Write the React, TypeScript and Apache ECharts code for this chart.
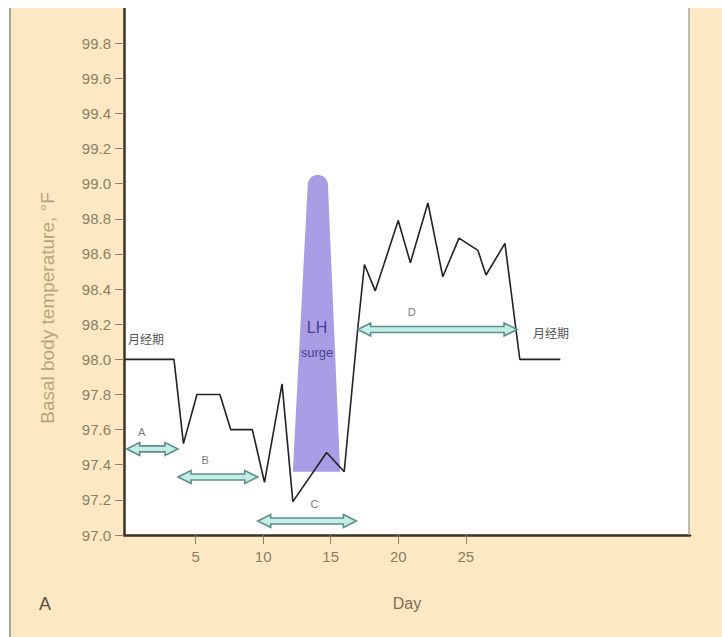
import React, { useEffect, useRef } from "react";
import * as echarts from "echarts";

// Basal body temperature curve
const days = [-0.3, 3.4, 4.1, 5.1, 6.8, 7.6, 9.2, 10.1, 11.4, 12.2, 14.7, 16.0, 17.0, 17.5, 18.3, 20.0, 20.9, 22.2, 23.3, 24.5, 25.9, 26.5, 27.9, 29.0, 32.0];
const temps = [98.0, 98.0, 97.52, 97.8, 97.8, 97.6, 97.6, 97.3, 97.86, 97.19, 97.47, 97.36, 98.17, 98.54, 98.39, 98.79, 98.55, 98.89, 98.47, 98.69, 98.62, 98.48, 98.66, 98.0, 98.0];

// Phase arrows
const arrowLabels = ["A", "B", "C", "D"];
const arrowStarts = [-0.1, 3.7, 9.6, 17.0];
const arrowEnds = [3.7, 9.6, 16.9, 28.8];
const arrowTemps = [97.49, 97.33, 97.08, 98.17];
const arrowLabelDays = [1.0, 5.7, 13.8, 21.0];

// LH surge band
const lhBottomDays = [12.2, 15.7];
const lhTopDays = [13.3, 14.8];
const lhTemps = [97.36, 99.05];

// Axis ticks
const xTicks = [5, 10, 15, 20, 25];
const yTicks = [97.0, 97.2, 97.4, 97.6, 97.8, 98.0, 98.2, 98.4, 98.6, 98.8, 99.0, 99.2, 99.4, 99.6, 99.8];

const labelColor = "#8a7f62";
const axisColor = "#3b3326";

export default function App() {
  const ref = useRef<HTMLDivElement>(null);
  useEffect(() => {
    if (!ref.current) return;
    const chart = echarts.init(ref.current, null, { renderer: "svg" });
    const arrowData = arrowLabels.map((l, i) => [arrowStarts[i], arrowEnds[i], arrowTemps[i], i, arrowLabelDays[i]]);
    const lhData = [[lhBottomDays[0], lhBottomDays[1], lhTopDays[0], lhTopDays[1], lhTemps[0], lhTemps[1]]];
    chart.setOption({
      animation: false,
      backgroundColor: "#fce9c3",
      grid: {
        left: 124,
        top: 8,
        right: 32,
        bottom: 102,
        show: true,
        backgroundColor: "#ffffff",
        borderWidth: 0,
      },
      xAxis: {
        type: "value",
        min: -0.3,
        max: 41.6,
        axisLine: { show: true, onZero: false, lineStyle: { color: axisColor, width: 2.5 } },
        axisTick: { show: true, customValues: xTicks, length: 9, lineStyle: { color: "#8a8070", width: 1 } },
        axisLabel: {
          customValues: xTicks,
          color: labelColor,
          fontSize: 15,
          fontFamily: "Liberation Sans",
          margin: 14,
        },
        splitLine: { show: false },
        name: "Day",
        nameLocation: "middle",
        nameGap: 60,
        nameTextStyle: { color: "#7a6e55", fontSize: 16, fontFamily: "Liberation Sans" },
      },
      yAxis: {
        type: "value",
        min: 97,
        max: 100,
        interval: 0.2,
        axisLine: { show: true, onZero: false, lineStyle: { color: axisColor, width: 2.5 } },
        axisTick: { show: true, customValues: yTicks, length: 9, lineStyle: { color: "#8a8070", width: 1 } },
        axisLabel: {
          customValues: yTicks,
          color: labelColor,
          fontSize: 15,
          fontFamily: "Liberation Sans",
          margin: 13,
          formatter: (v: number) => v.toFixed(1),
        },
        splitLine: { show: false },
      },
      graphic: [
        { type: "rect", shape: { x: 0, y: 0, width: 722, height: 8 }, style: { fill: "#ffffff" }, z: 100 },
        { type: "rect", shape: { x: 0, y: 0, width: 9, height: 637 }, style: { fill: "#ffffff" }, z: 100 },
        { type: "line", shape: { x1: 10, y1: 8, x2: 10, y2: 637 }, style: { stroke: "#a8a49a", lineWidth: 2 }, z: 100 },
        { type: "line", shape: { x1: 689, y1: 8, x2: 689, y2: 535 }, style: { stroke: "#a8a49a", lineWidth: 1.5 }, z: 100 },
        {
          type: "text",
          x: 47,
          y: 308,
          rotation: Math.PI / 2,
          style: {
            text: "Basal body temperature, °F",
            fill: "#b8a47c",
            fontSize: 19,
            fontFamily: "Liberation Sans",
            align: "center",
            verticalAlign: "middle",
          },
          z: 100,
        },
        {
          type: "text",
          x: 45,
          y: 604,
          style: { text: "A", fill: "#555040", fontSize: 18, fontFamily: "Liberation Sans", align: "center", verticalAlign: "middle" },
          z: 100,
        },
        {
          type: "text",
          x: 317,
          y: 327,
          style: { text: "LH", fill: "#4a3e96", fontSize: 16, fontFamily: "Liberation Sans", align: "center", verticalAlign: "middle" },
          z: 100,
        },
        {
          type: "text",
          x: 317,
          y: 352,
          style: { text: "surge", fill: "#4a3e96", fontSize: 13, fontFamily: "Liberation Sans", align: "center", verticalAlign: "middle" },
          z: 100,
        },
        {
          type: "text",
          x: 128,
          y: 338,
          style: { text: "月经期", fill: "#555555", fontSize: 12, fontFamily: "Noto Sans CJK SC", align: "left", verticalAlign: "middle" },
          z: 100,
        },
        {
          type: "text",
          x: 533,
          y: 332,
          style: { text: "月经期", fill: "#555555", fontSize: 12, fontFamily: "Noto Sans CJK SC", align: "left", verticalAlign: "middle" },
          z: 100,
        },
      ],
      series: [
        {
          type: "custom",
          z: 1,
          data: lhData,
          encode: { x: [0, 1], y: [4, 5] },
          renderItem: (params: any, api: any) => {
            const bl = api.coord([api.value(0), api.value(4)]);
            const br = api.coord([api.value(1), api.value(4)]);
            const tl = api.coord([api.value(2), api.value(5)]);
            const tr = api.coord([api.value(3), api.value(5)]);
            const r = (tr[0] - tl[0]) / 2;
            const cx = (tl[0] + tr[0]) / 2;
            const cy = tl[1] + r;
            const pts: number[][] = [bl, [tl[0], cy]];
            for (let k = 1; k < 16; k++) {
              const a = Math.PI - (Math.PI * k) / 16;
              pts.push([cx + r * Math.cos(a), cy - r * Math.sin(a)]);
            }
            pts.push([tr[0], cy], br);
            return {
              type: "polygon",
              shape: { points: pts },
              style: { fill: "#a093e2", opacity: 0.9 },
            };
          },
        },
        {
          type: "line",
          z: 3,
          data: days.map((d, i) => [d, temps[i]]),
          showSymbol: false,
          symbol: "none",
          lineStyle: { color: "#222222", width: 1.6 },
        },
        {
          type: "custom",
          z: 4,
          data: arrowData,
          encode: { x: [0, 1], y: 2 },
          renderItem: (params: any, api: any) => {
            const p1 = api.coord([api.value(0), api.value(2)]);
            const p2 = api.coord([api.value(1), api.value(2)]);
            const pl = api.coord([api.value(4), api.value(2)]);
            const idx = api.value(3);
            const x1 = p1[0];
            const x2 = p2[0];
            const y = p1[1];
            const h = 3;
            const h2 = 6.5;
            const L = 13;
            const pts = [
              [x1, y],
              [x1 + L, y - h2],
              [x1 + L, y - h],
              [x2 - L, y - h],
              [x2 - L, y - h2],
              [x2, y],
              [x2 - L, y + h2],
              [x2 - L, y + h],
              [x1 + L, y + h],
              [x1 + L, y + h2],
            ];
            return {
              type: "group",
              children: [
                {
                  type: "polygon",
                  shape: { points: pts },
                  style: { fill: "#c4ece8", stroke: "#5d8f88", lineWidth: 1.6 },
                },
                {
                  type: "text",
                  style: {
                    text: arrowLabels[idx],
                    x: pl[0],
                    y: y - 17,
                    fill: "#7a7a7a",
                    fontSize: 11,
                    fontFamily: "Liberation Sans",
                    align: "center",
                    verticalAlign: "middle",
                  },
                },
              ],
            };
          },
        },
      ],
    });
    return () => chart.dispose();
  }, []);
  return (
    <div
      ref={ref}
      style={{ position: "fixed", left: 0, top: 0, width: 722, height: 637 }}
    />
  );
}
